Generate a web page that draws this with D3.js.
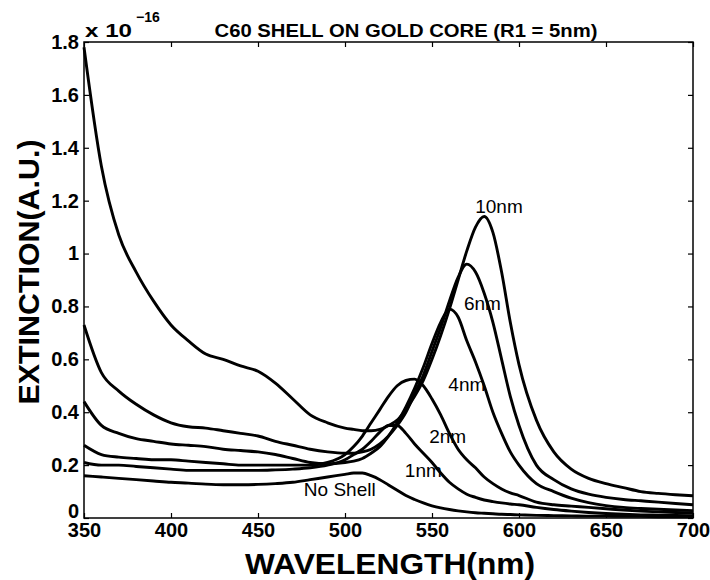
<!DOCTYPE html>
<meta charset="utf-8">
<head>
  <title>C60 shell on gold core</title>
</head>

<style>
body { margin: 0; background: #fff; }
text {
  font-family: "Liberation Sans", Arial, Helvetica, sans-serif;
  fill: #000;
}
.tick text { font-weight: bold; font-size: 20px; }
.curve { fill: none; stroke: #000; stroke-width: 2.9; stroke-linejoin: round; }
.frame { fill: none; stroke: #000; stroke-width: 1.5; }
.lbl { font-size: 19px; }
</style>

<body>
  <svg width="710" height="580"></svg>

  <script src="https://cdnjs.cloudflare.com/ajax/libs/d3/7.8.5/d3.min.js"></script>
  <script>
// wavelength grid (nm)
var wavelength = [350,360,370,380,390,400,410,420,430,440,450,460,470,480,490,500,505,510,515,520,
  525,530,535,540,545,550,555,560,565,570,575,580,585,590,595,600,610,620,630,640,650,660,670,680,690,700];

// extinction (x 1e-16) for each shell thickness
var shell10 = [1.78,1.33,1.07,0.93,0.82,0.73,0.67,0.62,0.60,0.575,0.555,0.51,0.45,0.39,0.36,0.34,0.335,0.33,0.33,0.335,
  0.35,0.37,0.41,0.46,0.52,0.60,0.69,0.79,0.90,1.01,1.10,1.14,1.08,0.93,0.74,0.58,0.37,0.25,0.185,0.15,0.13,0.115,0.10,0.093,0.088,0.084];
var shell6 = [0.73,0.55,0.48,0.43,0.39,0.36,0.345,0.34,0.33,0.32,0.31,0.29,0.275,0.26,0.25,0.245,0.245,0.25,0.26,0.28,
  0.31,0.35,0.40,0.47,0.54,0.63,0.72,0.82,0.91,0.96,0.93,0.85,0.74,0.60,0.46,0.35,0.20,0.145,0.11,0.09,0.078,0.07,0.065,0.06,0.055,0.05];
var shell4 = [0.44,0.35,0.32,0.30,0.29,0.28,0.275,0.27,0.26,0.255,0.25,0.24,0.225,0.21,0.205,0.21,0.215,0.225,0.245,0.27,
  0.31,0.36,0.42,0.49,0.57,0.66,0.74,0.79,0.76,0.67,0.59,0.50,0.40,0.32,0.25,0.20,0.13,0.10,0.075,0.058,0.047,0.04,0.036,0.033,0.03,0.028];
var shell2 = [0.275,0.24,0.23,0.225,0.22,0.22,0.215,0.21,0.205,0.20,0.20,0.20,0.20,0.20,0.21,0.24,0.27,0.31,0.36,0.41,
  0.46,0.50,0.52,0.525,0.50,0.45,0.39,0.32,0.26,0.22,0.19,0.155,0.13,0.11,0.095,0.085,0.06,0.05,0.045,0.04,0.035,0.03,0.026,0.023,0.021,0.019];
var shell1 = [0.21,0.20,0.20,0.195,0.19,0.185,0.18,0.18,0.18,0.18,0.18,0.182,0.185,0.19,0.20,0.22,0.24,0.26,0.29,0.325,
  0.35,0.35,0.32,0.28,0.245,0.21,0.17,0.135,0.11,0.09,0.078,0.068,0.062,0.057,0.053,0.05,0.04,0.032,0.026,0.021,0.017,0.014,0.012,0.011,0.01,0.009];
var noShell = [0.16,0.155,0.15,0.145,0.14,0.135,0.132,0.128,0.126,0.126,0.127,0.13,0.135,0.145,0.155,0.165,0.17,0.17,0.16,0.145,
  0.125,0.105,0.085,0.07,0.057,0.046,0.038,0.032,0.027,0.023,0.02,0.018,0.016,0.014,0.013,0.012,0.01,0.009,0.008,0.007,0.007,0.006,0.006,0.005,0.005,0.005];

var series = [shell10, shell6, shell4, shell2, shell1, noShell];

// curve labels and where they sit (data coordinates)
var labelText = ['10nm', '6nm', '4nm', '2nm', '1nm', 'No Shell'];
var labelW = [588.5, 579, 570, 559, 545, 497];
var labelV = [1.18, 0.81, 0.505, 0.31, 0.18, 0.107];

var xTicks = [350,400,450,500,550,600,650,700];
var yTicks = [0,0.2,0.4,0.6,0.8,1,1.2,1.4,1.6,1.8];

var svg = d3.select('svg');
var plotL = 84, plotR = 693, plotT = 42, plotB = 518;

var x = d3.scaleLinear().domain([350, 700]).range([plotL, plotR]);
var y = d3.scaleLinear().domain([0, 1.8]).range([plotB, plotT]);

var fmt = function(d) { return d === 0 || d === 1 ? String(d) : d3.format('.1f')(d); };

// axes with inward ticks on all four sides
var gx = svg.append('g').attr('transform', 'translate(0,' + plotB + ')')
  .call(d3.axisBottom(x).tickValues(xTicks).tickSize(-5).tickPadding(6).tickFormat(d3.format('d')));
var gxTop = svg.append('g').attr('transform', 'translate(0,' + plotT + ')')
  .call(d3.axisTop(x).tickValues(xTicks).tickSize(-5).tickFormat(''));
var gy = svg.append('g').attr('transform', 'translate(' + plotL + ',0)')
  .call(d3.axisLeft(y).tickValues(yTicks).tickSize(-5).tickPadding(5).tickFormat(fmt));
var gyRight = svg.append('g').attr('transform', 'translate(' + plotR + ',0)')
  .call(d3.axisRight(y).tickValues(yTicks).tickSize(-5).tickFormat(''));

[gx, gxTop, gy, gyRight].forEach(function(g) {
  g.select('.domain').remove();
  g.selectAll('.tick line').attr('stroke', '#000').attr('stroke-width', 1.2);
});
gx.selectAll('.tick text').attr('dy', '0.65em');
// the zero label sits a little high, clear of "350"
gy.selectAll('.tick text').filter(function(d) { return d === 0; }).attr('dy', '-0.05em');

svg.append('rect').attr('class', 'frame')
  .attr('x', plotL).attr('y', plotT)
  .attr('width', plotR - plotL).attr('height', plotB - plotT);

var line = d3.line()
  .x(function(d, i) { return x(wavelength[i]); })
  .y(function(d) { return y(d); })
  .curve(d3.curveMonotoneX);

svg.selectAll('path.curve')
  .data(series)
  .enter()
  .append('path')
  .attr('class', 'curve')
  .attr('d', line);

svg.selectAll('text.lbl')
  .data(labelText)
  .enter()
  .append('text')
  .attr('class', 'lbl')
  .attr('text-anchor', 'middle')
  .attr('x', function(d, i) { return x(labelW[i]); })
  .attr('y', function(d, i) { return y(labelV[i]); })
  .attr('dy', '0.35em')
  .text(function(d) { return d; });

// title and exponent
svg.append('text')
  .attr('x', 406).attr('y', 37)
  .attr('text-anchor', 'middle')
  .attr('font-weight', 'bold').attr('font-size', 19)
  .attr('textLength', 383).attr('lengthAdjust', 'spacingAndGlyphs')
  .text('C60 SHELL ON GOLD CORE (R1 = 5nm)');

svg.append('text')
  .attr('x', 85).attr('y', 37)
  .attr('font-weight', 'bold').attr('font-size', 19)
  .attr('textLength', 47).attr('lengthAdjust', 'spacingAndGlyphs')
  .text('x 10');
svg.append('text')
  .attr('x', 136).attr('y', 22)
  .attr('font-weight', 'bold').attr('font-size', 14)
  .text('\u221216');

// axis titles
svg.append('text')
  .attr('x', 390).attr('y', 574)
  .attr('text-anchor', 'middle')
  .attr('font-weight', 'bold').attr('font-size', 30)
  .attr('textLength', 290).attr('lengthAdjust', 'spacingAndGlyphs')
  .text('WAVELENGTH(nm)');

svg.append('text')
  .attr('transform', 'translate(39,272) rotate(-90)')
  .attr('text-anchor', 'middle')
  .attr('font-weight', 'bold').attr('font-size', 30)
  .attr('textLength', 265).attr('lengthAdjust', 'spacingAndGlyphs')
  .text('EXTINCTION(A.U.)');
  </script>
</body>
</html>
